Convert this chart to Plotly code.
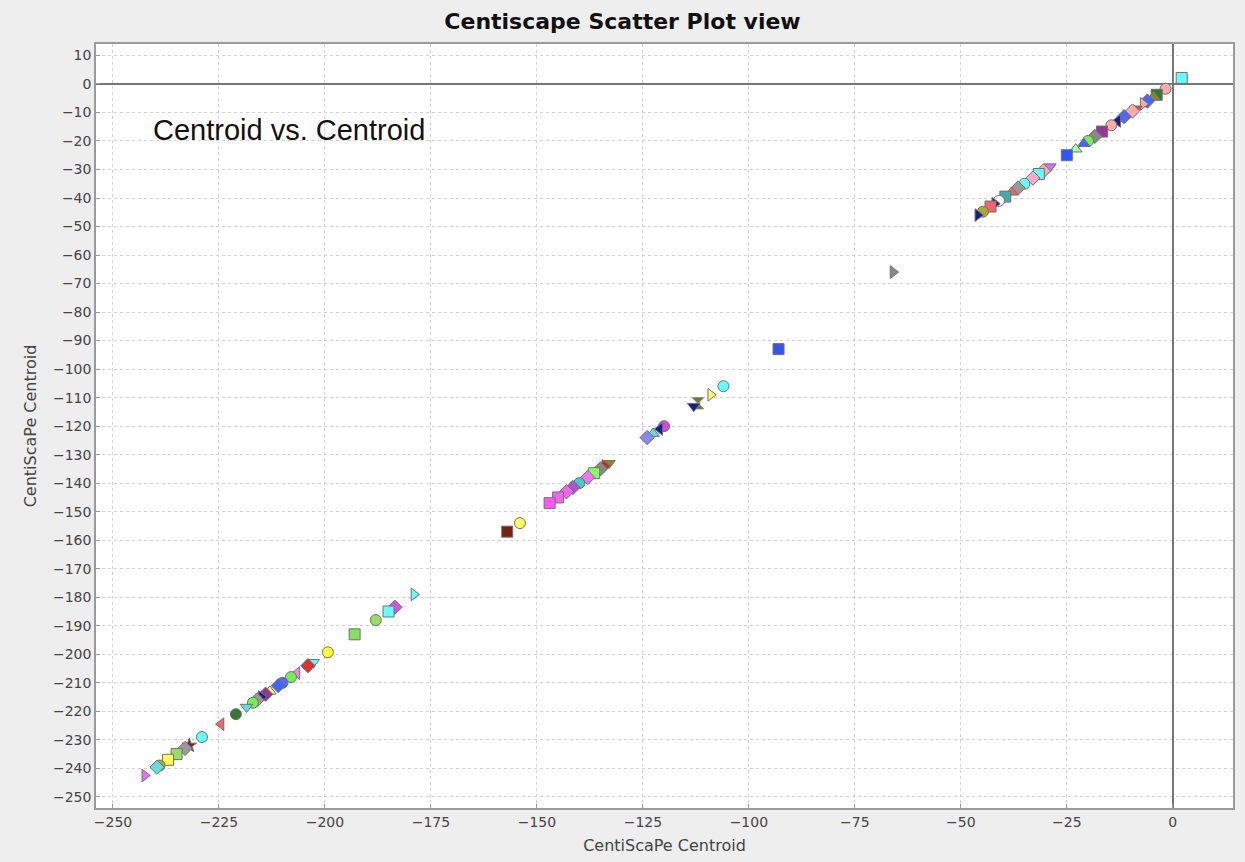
import plotly.graph_objects as go

# CentiScaPe Centroid value of each node (plotted against itself)
centroid = [
    2.1, -1.7, -3.8, -4.5, -6.0, -7.0, -8.7, -9.5, -11.5, -13.0, -14.5, -16.7,
    -18.4, -20.0, -21.0, -22.9, -25.0, -29.0, -30.5, -31.6, -33.0, -35.0,
    -36.5, -38.0, -39.5, -41.0, -42.0, -43.0, -44.8, -46.0,
    -66.0, -93.0, -106.0, -109.0, -112.0, -113.0, -120.0, -121.0, -122.6,
    -124.0, -133.0, -134.0, -135.0, -136.5, -138.0, -140.0, -141.5, -143.0,
    -145.0, -147.0, -154.0, -157.0,
    -179.0, -183.5, -185.0, -188.0, -193.0, -199.3, -202.8, -204.0, -206.6,
    -208.0, -210.0, -211.0, -213.0, -214.0, -215.0, -216.0, -217.0, -218.5,
    -221.0, -224.5, -229.0, -232.0, -233.0, -235.0, -237.0, -239.0, -239.6,
    -242.5,
]

marker_symbols = [
    "square", "circle", "square", "triangle-up", "diamond", "triangle-right",
    "triangle-down", "diamond", "diamond", "triangle-left", "circle", "square",
    "diamond", "circle", "triangle-up", "triangle-up", "square", "triangle-down",
    "diamond", "square", "diamond", "circle", "diamond", "triangle-up", "square",
    "circle", "triangle-right", "square", "circle", "triangle-right",
    "triangle-right", "square", "circle", "triangle-right", "hourglass",
    "triangle-down", "circle", "triangle-left", "triangle-up", "diamond",
    "triangle-down", "triangle-right", "diamond", "square", "diamond", "circle",
    "diamond", "diamond", "square", "square", "circle", "square",
    "triangle-right", "diamond", "square", "circle", "square", "circle",
    "triangle-down", "diamond", "triangle-left", "circle", "circle", "diamond",
    "triangle-up", "diamond", "triangle-right", "diamond", "circle",
    "triangle-down", "circle", "triangle-left", "circle", "star", "diamond",
    "square", "square", "circle", "diamond", "triangle-right",
]

marker_colors = [
    "#66ffff", "#ffaaaa", "#337733", "#888822", "#4466ff", "#ffaaaa",
    "#dd4444", "#ffaaaa", "#5566ff", "#112288", "#ffaaaa", "#993399",
    "#888888", "#77ee55", "#4466ff", "#aaffaa", "#3355ff", "#cc77ee",
    "#ffaaaa", "#66ffff", "#ffaacc", "#66ffff", "#999999", "#ee6666", "#44aaaa",
    "#ffffff", "#112288", "#ee6666", "#aaaa33", "#112288",
    "#888888", "#3355ee", "#66ffff", "#ffff55", "#777722",
    "#112288", "#dd44dd", "#112288", "#66dddd", "#8888ee",
    "#888822", "#cc2222", "#888888", "#88ff66", "#ee77ee", "#44cccc",
    "#aa55cc", "#ee66ee", "#ee66ee", "#ff55ff", "#ffff66", "#772211",
    "#66ffff", "#cc55ee", "#66ffff", "#99dd66", "#88dd66", "#ffff33",
    "#66ffff", "#dd3333", "#ee88ee", "#77ee55", "#5566ff", "#4466ff",
    "#ffff66", "#993399", "#112288", "#999999", "#77ee55",
    "#66dddd", "#337733", "#ee6666", "#66ffff", "#882222", "#999999",
    "#99dd66", "#ffff55", "#aaaa33", "#66dddd", "#dd77ee",
]

x_ticks = [-250, -225, -200, -175, -150, -125, -100, -75, -50, -25, 0]
y_ticks = list(range(-250, 11, 10))

fig = go.Figure()
fig.add_trace(go.Scatter(
    x=centroid,
    y=centroid,
    mode="markers",
    marker=dict(
        symbol=marker_symbols,
        color=marker_colors,
        size=11,
        line=dict(color="#707070", width=1),
    ),
    hoverinfo="skip",
    showlegend=False,
))

fig.add_annotation(
    x=-241, y=-16, xref="x", yref="y",
    text="Centroid vs. Centroid", showarrow=False,
    xanchor="left", yanchor="middle",
    font=dict(family="Liberation Sans, Arial, sans-serif", size=29, color="#111111"),
)

axis_common = dict(
    automargin=False,
    showgrid=True,
    gridcolor="#d2d2d2",
    griddash="dot",
    gridwidth=1,
    zeroline=True,
    zerolinecolor="#777777",
    zerolinewidth=1.5,
    showline=True,
    linecolor="#9a9a9a",
    linewidth=1.5,
    mirror=True,
    ticks="inside",
    ticklen=4,
    tickcolor="#999999",
    tickfont=dict(family="DejaVu Sans, sans-serif", size=14, color="#444444"),
)

fig.update_xaxes(
    range=[-254, 14.2],
    tickmode="array",
    tickvals=x_ticks,
    title=dict(text="CentiScaPe Centroid", standoff=11,
               font=dict(family="DejaVu Sans, sans-serif", size=16, color="#444444")),
    **axis_common,
)
fig.update_yaxes(
    range=[-253.9, 14.0],
    tickmode="array",
    tickvals=y_ticks,
    title=dict(text="CentiScaPe Centroid", standoff=12,
               font=dict(family="DejaVu Sans, sans-serif", size=16, color="#444444")),
    **axis_common,
)

fig.update_layout(
    width=1245,
    height=862,
    margin=dict(l=96, r=12, t=44, b=54),
    paper_bgcolor="#eeeeee",
    plot_bgcolor="#ffffff",
    title=dict(
        text="<b>Centiscape Scatter Plot view</b>",
        x=0.5, xref="container", xanchor="center",
        y=0.975, yref="container", yanchor="middle",
        font=dict(family="DejaVu Sans, sans-serif", size=22, color="#111111"),
    ),
)

fig.write_html(
    "out.html",
    config={"displayModeBar": False},
    post_script="document.body.style.margin='0';",
)
